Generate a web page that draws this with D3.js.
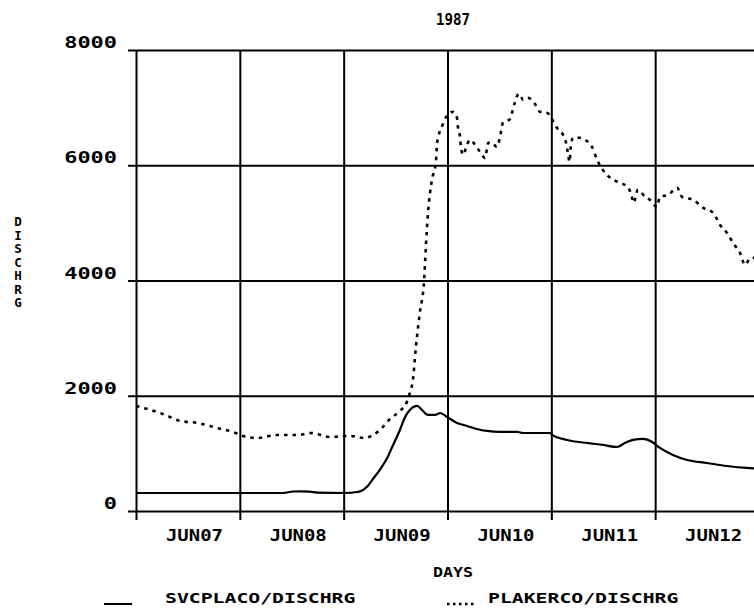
<!DOCTYPE html>
<html>
<head>
<meta charset="utf-8">
<script src="https://cdn.jsdelivr.net/npm/d3@7"></script>
<style>
  html, body { margin: 0; padding: 0; background: #fff; }
  svg { display: block; }
  text { font-family: "DejaVu Sans Mono", "Liberation Mono", monospace; font-weight: bold; fill: #000; }
</style>
</head>
<body>
<svg id="chart" width="754" height="610"></svg>
<script>
// ---- Data (hours since JUN07 00:00, discharge) ----
const title = "1987";
const yTitle = "DISCHRG";
const xTitle = "DAYS";
const dayLabels = ["JUN07", "JUN08", "JUN09", "JUN10", "JUN11", "JUN12"];
const dayTicks = [0, 24, 48, 72, 96, 120, 144];
const yTicks = [0, 2000, 4000, 6000, 8000];
const seriesNames = ["SVCPLACO/DISCHRG", "PLAKERCO/DISCHRG"];

const svcHours = [0, 24, 34, 36.3, 38, 40.2, 42, 48.3, 51.1, 51.8, 53.4, 54.8, 56.4, 58.0, 59.4, 61.0, 62.2, 63.3, 65.0, 66.1, 67.5, 69.1, 70.3, 71.9, 74.2, 76.5, 78.8, 81.1, 84.1, 88.1, 89.5, 95.7, 96.2, 99.6, 104.2, 107.9, 111.2, 113.0, 114.9, 117.2, 119.3, 121.1, 124.1, 127.4, 132.0, 136.6, 141.2, 144];
const svcValues = [312, 312, 312, 338, 340, 336, 318, 312, 330, 340, 420, 560, 720, 910, 1140, 1406, 1632, 1753, 1823, 1753, 1667, 1667, 1701, 1632, 1528, 1476, 1424, 1389, 1372, 1372, 1354, 1354, 1320, 1233, 1181, 1146, 1111, 1181, 1233, 1250, 1198, 1094, 972, 885, 833, 781, 747, 738];

const plkHours = [0, 6.2, 10.2, 14.3, 18.7, 22.4, 24.7, 28.0, 32.6, 37.2, 40.7, 44.8, 49.5, 52.9, 54.8, 56.4, 58.7, 61.0, 62.6, 63.3, 64.0, 64.7, 65.6, 66.6, 67.0, 67.5, 68.4, 69.3, 69.6, 70.7, 71.7, 73.3, 74.2, 74.4, 74.9, 75.1, 75.6, 76.5, 77.2, 78.4, 79.5, 80.7, 81.4, 82.3, 83.4, 84.1, 84.8, 86.5, 87.1, 87.6, 88.5, 89.5, 90.6, 92.2, 93.4, 95.0, 97.3, 98.7, 99.4, 99.9, 100.2, 100.5, 101.0, 102.6, 103.8, 105.4, 106.6, 107.9, 109.6, 111.9, 113.7, 114.6, 115.0, 116.0, 117.7, 118.8, 120.4, 121.1, 123.0, 125.1, 126.2, 128.8, 131.1, 133.4, 135.0, 136.6, 138.0, 139.6, 140.8, 142.0, 144];
const plkValues = [1823, 1684, 1563, 1528, 1441, 1372, 1302, 1267, 1319, 1319, 1354, 1285, 1302, 1267, 1319, 1406, 1597, 1736, 1892, 2049, 2274, 2847, 3438, 4010, 4583, 5174, 5747, 6042, 6389, 6667, 6840, 6927, 6823, 6667, 6493, 6319, 6181, 6354, 6441, 6354, 6233, 6128, 6389, 6389, 6319, 6476, 6736, 6806, 6962, 7101, 7240, 7135, 7170, 7066, 6927, 6910, 6649, 6528, 6389, 6181, 6059, 6319, 6476, 6476, 6441, 6319, 6094, 5920, 5781, 5694, 5625, 5451, 5347, 5573, 5451, 5399, 5278, 5451, 5486, 5608, 5451, 5399, 5260, 5174, 4965, 4826, 4653, 4479, 4271, 4392, 4392];

// ---- Layout ----
const svg = d3.select("#chart");
const x = d3.scaleLinear().domain([0, 144]).range([136, 759]);
const y = d3.scaleLinear().domain([0, 8000]).range([511, 50]);

function fitText(sel, pitch) {
  sel.attr("textLength", function() { return this.textContent.length * pitch; })
     .attr("lengthAdjust", "spacingAndGlyphs");
}

// Horizontal grid (y axis)
const yAxis = d3.axisLeft(y).tickValues(yTicks).tickSize(-(759 - 128)).tickPadding(11).tickFormat(d3.format("d"));
const gy = svg.append("g").attr("transform", "translate(128,0)").call(yAxis);
gy.select(".domain").remove();
gy.selectAll(".tick line").attr("stroke", "#000").attr("stroke-width", 2);
gy.selectAll(".tick text").attr("font-size", 16).attr("dy", "-0.15em")
  .style("font-family", "DejaVu Sans Mono").style("font-weight", "bold").attr("fill", "#000")
  .call(fitText, 13.2);

// Vertical grid (x axis)
const xAxis = d3.axisBottom(x).tickValues(dayTicks).tickSize(-(520 - 50)).tickFormat("");
const gx = svg.append("g").attr("transform", "translate(0,520)").call(xAxis);
gx.select(".domain").remove();
gx.selectAll(".tick line").attr("stroke", "#000").attr("stroke-width", 2);

// Day labels
const xLab = d3.axisBottom(x).tickValues(dayLabels.map((d, i) => 12 + 24 * i)).tickSize(0).tickPadding(10)
  .tickFormat((d, i) => dayLabels[i]);
const gl = svg.append("g").attr("transform", "translate(6,520)").call(xLab);
gl.select(".domain").remove();
gl.selectAll(".tick text").attr("font-size", 15)
  .style("font-family", "DejaVu Sans Mono").style("font-weight", "bold").attr("fill", "#000")
  .call(fitText, 11.4);

// Lines
const svcData = svcHours.map((h, i) => [h, svcValues[i]]);
const plkData = plkHours.map((h, i) => [h, plkValues[i]]);
const line = d3.line().x(d => x(d[0])).y(d => y(d[1])).curve(d3.curveMonotoneX);

svg.append("path").datum(svcData).attr("d", line)
  .attr("fill", "none").attr("stroke", "#000").attr("stroke-width", 2.2);
svg.append("path").datum(plkData).attr("d", line)
  .attr("fill", "none").attr("stroke", "#000").attr("stroke-width", 2.6)
  .attr("stroke-dasharray", "3.5,5");

// Titles
svg.append("text").attr("x", 453).attr("y", 25).attr("text-anchor", "middle")
  .attr("font-size", 15).text(title).call(fitText, 8.5);
svg.append("text").attr("x", 453).attr("y", 577).attr("text-anchor", "middle")
  .attr("font-size", 14).text(xTitle).call(fitText, 10);

// Vertical stacked axis title
svg.append("g").selectAll("text").data(yTitle.split("")).join("text")
  .attr("x", 18).attr("y", (d, i) => 226 + i * 13.5)
  .attr("text-anchor", "middle").attr("font-size", 12.5).text(d => d);

// Legend
svg.append("line").attr("x1", 104).attr("x2", 132).attr("y1", 604).attr("y2", 604)
  .attr("stroke", "#000").attr("stroke-width", 2);
svg.append("text").attr("x", 165).attr("y", 603).attr("font-size", 14).text(seriesNames[0]).call(fitText, 11.9);
svg.append("line").attr("x1", 447).attr("x2", 476).attr("y1", 604).attr("y2", 604)
  .attr("stroke", "#000").attr("stroke-width", 2.4).attr("stroke-dasharray", "2.5,3.5");
svg.append("text").attr("x", 488).attr("y", 603).attr("font-size", 14).text(seriesNames[1]).call(fitText, 11.9);
</script>
</body>
</html>
